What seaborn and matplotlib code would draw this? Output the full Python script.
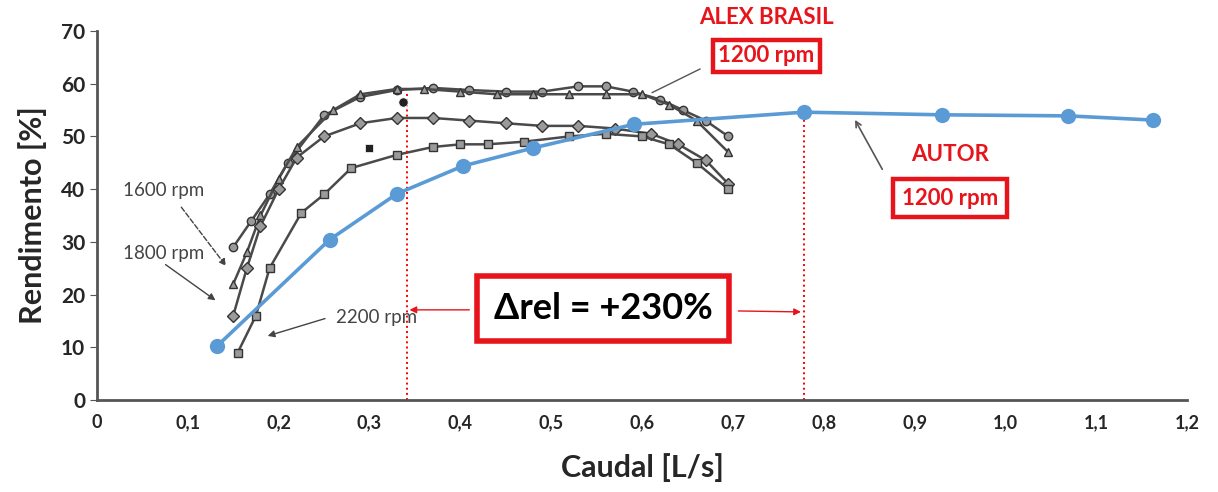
import matplotlib
matplotlib.use('Agg')
import matplotlib.pyplot as plt
import seaborn as sns
import pandas as pd


#%% data

# author's curve, 1200 rpm (blue)
autor_q = [0.132, 0.256, 0.330, 0.403, 0.480, 0.591, 0.778, 0.930, 1.069, 1.163]
autor_eff = [10.2, 30.4, 39.1, 44.4, 47.8, 52.3, 54.6, 54.1, 53.9, 53.1]

# scanned curves (Alex Brasil)
c1_q = [0.15, 0.17, 0.19, 0.21, 0.25, 0.29, 0.33, 0.37, 0.41, 0.45, 0.49, 0.53, 0.56, 0.59, 0.62, 0.645, 0.67, 0.695]
c1_eff = [29, 34, 39, 45, 54, 57.5, 58.8, 59.2, 58.8, 58.5, 58.5, 59.5, 59.5, 58.5, 57, 55, 53, 50]

c2_q = [0.15, 0.165, 0.18, 0.20, 0.22, 0.26, 0.29, 0.33, 0.36, 0.40, 0.44, 0.48, 0.52, 0.56, 0.60, 0.63, 0.66, 0.695]
c2_eff = [22, 28, 35, 42, 48, 55, 58, 59, 59, 58.5, 58, 58, 58, 58, 58, 56, 53, 47]

c3_q = [0.15, 0.165, 0.18, 0.20, 0.22, 0.25, 0.29, 0.33, 0.37, 0.41, 0.45, 0.49, 0.53, 0.57, 0.61, 0.64, 0.67, 0.695]
c3_eff = [16, 25, 33, 40, 46, 50, 52.5, 53.5, 53.5, 53, 52.5, 52, 52, 51.5, 50.5, 48.5, 45.5, 41]

c4_q = [0.155, 0.175, 0.19, 0.225, 0.25, 0.28, 0.33, 0.37, 0.40, 0.43, 0.47, 0.52, 0.56, 0.60, 0.63, 0.66, 0.695]
c4_eff = [9, 16, 25, 35.5, 39, 44, 46.5, 48, 48.5, 48.5, 49, 50, 50.5, 50, 48.5, 45, 40]

# loose filled points on the scan
dot_q, dot_eff = [0.337], [56.5]
sq_q, sq_eff = [0.30], [47.8]

# red guides
guide_q = [0.341, 0.778]
guide_top = [58.5, 54.6]

x_ticks = [0, 0.1, 0.2, 0.3, 0.4, 0.5, 0.6, 0.7, 0.8, 0.9, 1.0, 1.1, 1.2]
x_labels = ['0', '0,1', '0,2', '0,3', '0,4', '0,5', '0,6', '0,7', '0,8', '0,9', '1,0', '1,1', '1,2']
y_ticks = [0, 10, 20, 30, 40, 50, 60, 70]


#%% plot

def main():
    sns.set_style('white')
    plt.rcParams['font.family'] = ['Lato', 'DejaVu Sans']

    fig = plt.figure(figsize=(12.18, 4.92), dpi=100)
    ax = fig.add_axes([0.0796, 0.187, 0.895, 0.75])

    gray = '#4a4a4a'
    scans = [(c1_q, c1_eff, 'o'), (c2_q, c2_eff, '^'), (c3_q, c3_eff, 'D'), (c4_q, c4_eff, 's')]
    for q, eff, mk in scans:
        df = pd.DataFrame({'q': q, 'eff': eff})
        sns.lineplot(data=df, x='q', y='eff', ax=ax, color=gray, lw=1.8,
                     marker=mk, markersize=6, markerfacecolor='#9a9a9a',
                     markeredgecolor='#333333', markeredgewidth=1, sort=False)

    sns.scatterplot(x=dot_q, y=dot_eff, ax=ax, color='#222222', s=45, marker='o', zorder=4)
    sns.scatterplot(x=sq_q, y=sq_eff, ax=ax, color='#222222', s=40, marker='s', zorder=4)

    for q, top in zip(guide_q, guide_top):
        ax.plot([q, q], [0, top], color='red', lw=1.4, ls=':', zorder=2)

    blue = pd.DataFrame({'q': autor_q, 'eff': autor_eff})
    sns.lineplot(data=blue, x='q', y='eff', ax=ax, color='#5b9bd5', lw=2.6,
                 marker='o', markersize=11, markeredgewidth=0, zorder=5)

    # axes
    ax.set_xlim(0, 1.2)
    ax.set_ylim(0, 70)
    ax.set_xticks(x_ticks)
    ax.set_xticklabels(x_labels, fontsize=13, fontweight='bold')
    ax.set_yticks(y_ticks)
    ax.set_yticklabels([str(t) for t in y_ticks], fontsize=15, fontweight='bold')
    ax.tick_params(axis='x', direction='in', length=5, color='#555555', pad=10)
    ax.tick_params(axis='y', direction='out', length=5, color='#555555', left=True)
    sns.despine(ax=ax)
    for s in ['left', 'bottom']:
        ax.spines[s].set_color('#555555')
        ax.spines[s].set_linewidth(2)
    ax.set_xlabel('Caudal [L/s]', fontsize=22, fontweight='bold', labelpad=16)
    ax.set_ylabel('Rendimento [%]', fontsize=22, fontweight='bold', labelpad=10)

    # rpm labels of the scan
    ax.text(0.073, 39.8, '1600 rpm', fontsize=13.5, color='#444444', ha='center', va='center')
    ax.text(0.073, 27.7, '1800 rpm', fontsize=13.5, color='#444444', ha='center', va='center')
    ax.text(0.263, 15.6, '2200 rpm', fontsize=13.5, color='#444444', ha='left', va='center')
    ax.annotate('', xy=(0.144, 25), xytext=(0.091, 37),
                arrowprops=dict(arrowstyle='-|>', color='#444444', lw=1, ls='--'))
    ax.annotate('', xy=(0.133, 18.6), xytext=(0.073, 26),
                arrowprops=dict(arrowstyle='-|>', color='#444444', lw=1))
    ax.annotate('', xy=(0.185, 12), xytext=(0.254, 15.6),
                arrowprops=dict(arrowstyle='-|>', color='#444444', lw=1))

    red = '#e8141c'

    # Alex Brasil label
    ax.text(0.737, 72.6, 'ALEX BRASIL', fontsize=16, fontweight='bold', color=red,
            ha='center', va='center', clip_on=False)
    ax.text(0.737, 65.3, '1200 rpm', fontsize=16, fontweight='bold', color=red,
            ha='center', va='center', clip_on=False,
            bbox=dict(boxstyle='square,pad=0.25', fc='white', ec=red, lw=3.2))
    ax.plot([0.664, 0.611], [62.8, 58.3], color='#555555', lw=1)

    # Autor label
    ax.text(0.939, 46.5, 'AUTOR', fontsize=16, fontweight='bold', color=red,
            ha='center', va='center')
    ax.text(0.939, 38.3, '1200 rpm', fontsize=16, fontweight='bold', color=red,
            ha='center', va='center', bbox=dict(boxstyle='square,pad=0.4', fc='white', ec=red, lw=3.2))
    ax.annotate('', xy=(0.833, 53.6), xytext=(0.866, 43.3),
                arrowprops=dict(arrowstyle='->', color='#555555', lw=1.2))

    # relative difference box
    ax.text(0.557, 17.4, 'Δrel = +230%', fontsize=26, fontweight='bold', color='black',
            ha='center', va='center', bbox=dict(boxstyle='square,pad=0.45', fc='white', ec=red, lw=4))
    ax.annotate('', xy=(0.341, 17.1), xytext=(0.413, 17.1),
                arrowprops=dict(arrowstyle='-|>', color=red, lw=1, mutation_scale=10))
    ax.annotate('', xy=(0.778, 16.7), xytext=(0.703, 16.9),
                arrowprops=dict(arrowstyle='-|>', color=red, lw=1, mutation_scale=10))

    fig.savefig('out.png', dpi=100)


if __name__ == '__main__':
    main()
